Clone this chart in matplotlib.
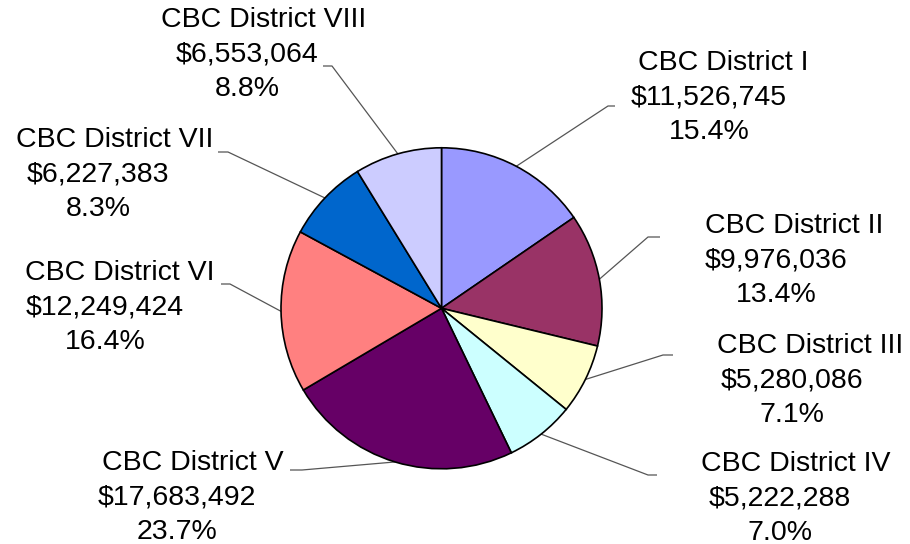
import numpy as np
import matplotlib
matplotlib.use("Agg")
import matplotlib.pyplot as plt

districts = ["CBC District I", "CBC District II", "CBC District III", "CBC District IV",
             "CBC District V", "CBC District VI", "CBC District VII", "CBC District VIII"]
amounts = [11526745, 9976036, 5280086, 5222288, 17683492, 12249424, 6227383, 6553064]
colors = ["#9999FF", "#993366", "#FFFFCC", "#CCFFFF", "#660066", "#FF8080", "#0066CC", "#CCCCFF"]

# label layout in image pixel coordinates (x center of lines 2-3, y of first line)
label_x = [709, 776, 792, 780, 177, 105, 98, 247]
label_y = [63, 226, 346, 464, 463, 273, 140, 20]
first_dx = [14, 18, 18, 16, 16, 15, 17, 17]
elbow = [(608, 106), (648, 237), (663, 355), (648, 475), (302, 470), (230, 284), (228, 152), (332, 66)]
tick_end = [(615, 106), (660, 237), (673, 355), (657, 475), (290, 470), (221, 284), (218, 152), (323, 66)]

W, H = 910, 544
fig = plt.figure(figsize=(W / 100, H / 100), dpi=100)
ax = fig.add_axes([0, 0, 1, 1])
ax.set_xlim(0, W)
ax.set_ylim(0, H)
ax.set_aspect("equal")
ax.axis("off")

cx, cy, r = 441.5, H - 308.3, 160.5
wedges, _ = ax.pie(amounts, colors=colors, startangle=90, counterclock=False,
                   center=(cx, cy), radius=r, frame=True,
                   wedgeprops=dict(edgecolor="black", linewidth=1.2))
ax.set_xlim(0, W)
ax.set_ylim(0, H)
ax.axis("off")

total = sum(amounts)
fs = 20.5
lh = 34.3
for i, (name, val) in enumerate(zip(districts, amounts)):
    pct = val / total * 100
    lines = [name, f"${val:,}", f"{pct:.1f}%"]
    for k, t in enumerate(lines):
        x = label_x[i] + (first_dx[i] if k == 0 else 0)
        y = H - (label_y[i] + k * lh)
        ax.text(x, y, t, ha="center", va="center", fontsize=fs,
                family="Liberation Sans", color="black")
    w = wedges[i]
    ang = np.deg2rad((w.theta1 + w.theta2) / 2)
    px, py = cx + r * np.cos(ang), cy + r * np.sin(ang)
    ex, ey = elbow[i]
    tx, ty = tick_end[i]
    ax.plot([px, ex, tx], [py, H - ey, H - ty], color="#555555", linewidth=0.9,
            solid_capstyle="butt", zorder=0)

fig.savefig("out.png", dpi=100, facecolor="white")
